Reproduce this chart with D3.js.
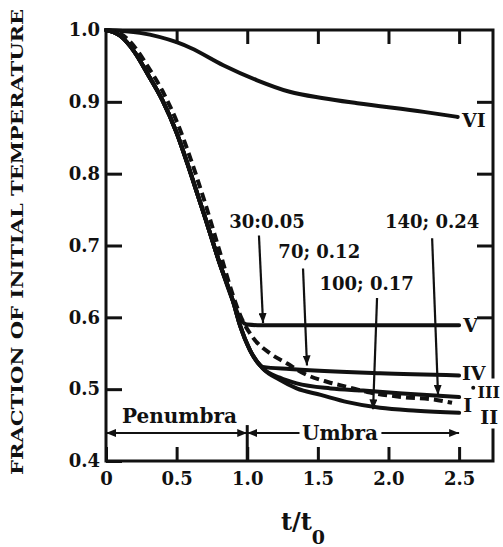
<!DOCTYPE html>
<html><head><meta charset="utf-8">
<script src="https://cdn.jsdelivr.net/npm/d3@7"></script>
<style>
body{margin:0;background:#fff}
text{font-family:"DejaVu Serif",serif;font-weight:bold;fill:#111}
</style>
</head><body>
<svg id="c" width="503" height="547"></svg>
<script>
// ---- data ----
const xTicks = [0, 0.5, 1.0, 1.5, 2.0, 2.5];
const xTickLabels = ["0", "0.5", "1.0", "1.5", "2.0", "2.5"];
const yTicks = [0.4, 0.5, 0.6, 0.7, 0.8, 0.9, 1.0];
const yTickLabels = ["0.4", "0.5", "0.6", "0.7", "0.8", "0.9", "1.0"];

// shared early part of curves I, II, IV, V
const commonT = [0, 0.1, 0.2, 0.3, 0.4, 0.5, 0.6, 0.7, 0.8, 0.9];
const commonV = [1.0, 0.992, 0.97, 0.937, 0.902, 0.857, 0.8, 0.74, 0.678, 0.622];

const tailVT = [0.95, 1.0, 1.1, 1.5, 2.0, 2.5];
const tailVV = [0.598, 0.59, 0.589, 0.589, 0.589, 0.589];
const tailIVT = [0.95, 1.02, 1.11, 1.3, 1.94, 2.5];
const tailIVV = [0.588, 0.554, 0.531, 0.528, 0.522, 0.519];
const tailIT = [0.95, 1.02, 1.11, 1.23, 1.35, 1.59, 1.82, 2.1, 2.5];
const tailIV_ = [0.588, 0.554, 0.529, 0.516, 0.508, 0.501, 0.498, 0.494, 0.489];
const tailIIT = [0.95, 1.02, 1.11, 1.23, 1.35, 1.52, 1.71, 1.94, 2.2, 2.5];
const tailIIV = [0.588, 0.554, 0.529, 0.513, 0.501, 0.492, 0.482, 0.474, 0.470, 0.467];

const curveIIIT = [0, 0.1, 0.2, 0.3, 0.4, 0.5, 0.6, 0.7, 0.8, 0.9, 0.95, 1.04, 1.16, 1.28, 1.42, 1.57, 1.71, 1.85, 2.1, 2.34, 2.45];
const curveIIIV = [1.0, 0.995, 0.977, 0.948, 0.915, 0.873, 0.82, 0.76, 0.695, 0.63, 0.603, 0.572, 0.550, 0.536, 0.520, 0.510, 0.503, 0.496, 0.489, 0.485, 0.481];

const curveVIT = [0, 0.24, 0.5, 0.6, 0.83, 1.07, 1.3, 1.54, 1.78, 2.25, 2.49];
const curveVIV = [1.0, 0.996, 0.983, 0.975, 0.951, 0.93, 0.914, 0.905, 0.898, 0.886, 0.879];

const curveLabels = ["VI", "V", "IV", "III", "I", "II"];
const curveLabelT = [2.52, 2.53, 2.52, 2.63, 2.53, 2.65];
const curveLabelV = [0.875, 0.589, 0.522, 0.496, 0.478, 0.461];

const annoText = ["30:0.05", "70; 0.12", "100; 0.17", "140; 0.24"];
const annoTextT = [1.14, 1.51, 1.845, 2.309];
const annoTextV = [0.724, 0.682, 0.638, 0.724];
const annoFromT = [1.083, 1.395, 1.919, 2.309];
const annoFromV = [0.714, 0.668, 0.627, 0.710];
const annoToT = [1.112, 1.423, 1.891, 2.351];
const annoToV = [0.592, 0.533, 0.472, 0.492];

const regionNames = ["Penumbra", "Umbra"];
const regionStart = [0, 1.0];
const regionEnd = [1.0, 2.5];
const regionArrowV = 0.439;

// ---- layout ----
const W = 503, H = 547;
const m = {left: 106, top: 30, right: 10, bottom: 86};
const iw = W - m.left - m.right, ih = H - m.top - m.bottom;
const svg = d3.select("#c");
const defs = svg.append("defs");
defs.append("marker").attr("id", "ah").attr("viewBox", "0 0 10 8")
  .attr("refX", 10).attr("refY", 4).attr("markerWidth", 10).attr("markerHeight", 8)
  .attr("markerUnits", "userSpaceOnUse").attr("orient", "auto-start-reverse")
  .append("path").attr("d", "M0,0 L10,4 L0,8 Z").attr("fill", "#111");

const g = svg.append("g").attr("transform", `translate(${m.left},${m.top})`);
const x = d3.scaleLinear().domain([0, 2.74]).range([0, iw]);
const y = d3.scaleLinear().domain([0.4, 1.0]).range([ih, 0]);

// axes
const ax = g.append("g").attr("transform", `translate(0,${ih})`)
  .call(d3.axisBottom(x).tickValues(xTicks).tickFormat((d, i) => xTickLabels[i])
    .tickSizeInner(-14).tickSizeOuter(0).tickPadding(11));
const axT = g.append("g")
  .call(d3.axisTop(x).tickValues(xTicks.slice(1)).tickFormat("").tickSizeInner(-14).tickSizeOuter(0));
const ayL = g.append("g")
  .call(d3.axisLeft(y).tickValues(yTicks).tickFormat((d, i) => yTickLabels[i])
    .tickSizeInner(-16).tickSizeOuter(0).tickPadding(6));
const ayR = g.append("g").attr("transform", `translate(${iw},0)`)
  .call(d3.axisRight(y).tickValues([0.6, 0.7, 0.8, 0.9]).tickFormat("").tickSizeInner(-16).tickSizeOuter(0));
[ax, axT, ayL, ayR].forEach(a => {
  a.select(".domain").remove();
  a.selectAll(".tick line").attr("stroke", "#111").attr("stroke-width", 3);
  a.selectAll("text").attr("font-size", 18).attr("fill", "#111")
    .style("font-family", "DejaVu Serif").style("font-weight", "bold");
});

// frame
const frame = g.append("g").attr("stroke", "#111").attr("stroke-width", 3).attr("fill", "none");
frame.append("path").attr("d", `M${iw},${y(0.517)} L${iw},0 L0,0 L0,${ih} L${iw},${ih} L${iw},${y(0.443)}`)
  .attr("stroke-linecap", "square");

// t = 1.0 divider
g.append("line").attr("x1", x(1.0)).attr("x2", x(1.0)).attr("y1", y(0.45)).attr("y2", ih)
  .attr("stroke", "#111").attr("stroke-width", 3);

// curves
const line = d3.line().x(d => x(d[0])).y(d => y(d[1])).curve(d3.curveMonotoneX);
const zip = (t, v) => t.map((d, i) => [d, v[i]]);
const solid = [
  zip(curveVIT, curveVIV),
  zip(commonT.concat(tailVT), commonV.concat(tailVV)),
  zip(commonT.concat(tailIVT), commonV.concat(tailIVV)),
  zip(commonT.concat(tailIT), commonV.concat(tailIV_)),
  zip(commonT.concat(tailIIT), commonV.concat(tailIIV))
];
g.selectAll(".sc").data(solid).enter().append("path")
  .attr("d", line).attr("fill", "none").attr("stroke", "#111").attr("stroke-width", 4)
  .attr("stroke-linecap", "round");
g.append("path").datum(zip(curveIIIT, curveIIIV)).attr("d", line)
  .attr("fill", "none").attr("stroke", "#111").attr("stroke-width", 4)
  .attr("stroke-dasharray", "9,5");

// curve labels
g.selectAll(".cl").data(curveLabels).enter().append("text")
  .attr("x", (d, i) => x(curveLabelT[i])).attr("y", (d, i) => y(curveLabelV[i]))
  .attr("dy", "0.36em").attr("font-size", (d) => d === "III" ? 16 : 19).text(d => d);
g.append("circle").attr("cx", x(2.6)).attr("cy", y(0.502)).attr("r", 2).attr("fill", "#111");

// annotations
g.selectAll(".at").data(annoText).enter().append("text")
  .attr("x", (d, i) => x(annoTextT[i])).attr("y", (d, i) => y(annoTextV[i]))
  .attr("text-anchor", "middle").attr("font-size", 18).text(d => d);
g.selectAll(".al").data(annoText).enter().append("line")
  .attr("x1", (d, i) => x(annoFromT[i])).attr("y1", (d, i) => y(annoFromV[i]))
  .attr("x2", (d, i) => x(annoToT[i])).attr("y2", (d, i) => y(annoToV[i]))
  .attr("stroke", "#111").attr("stroke-width", 2.2).attr("marker-end", "url(#ah)");

// Penumbra / Umbra
g.append("line").attr("x1", x(regionStart[0])).attr("x2", x(regionEnd[0]))
  .attr("y1", y(regionArrowV)).attr("y2", y(regionArrowV))
  .attr("stroke", "#111").attr("stroke-width", 2.2)
  .attr("marker-start", "url(#ah)").attr("marker-end", "url(#ah)");
g.append("text").attr("x", x(0.113)).attr("y", y(0.453)).attr("font-size", 20).text(regionNames[0]);
const umbraMid = 1.657;
g.append("line").attr("x1", x(regionStart[1])).attr("x2", x(1.37))
  .attr("y1", y(regionArrowV)).attr("y2", y(regionArrowV))
  .attr("stroke", "#111").attr("stroke-width", 2.2).attr("marker-start", "url(#ah)");
g.append("line").attr("x1", x(1.95)).attr("x2", x(regionEnd[1]))
  .attr("y1", y(regionArrowV)).attr("y2", y(regionArrowV))
  .attr("stroke", "#111").attr("stroke-width", 2.2).attr("marker-end", "url(#ah)");
g.append("text").attr("x", x(umbraMid)).attr("y", y(regionArrowV)).attr("dy", "0.36em")
  .attr("text-anchor", "middle").attr("font-size", 20).text(regionNames[1]);

// axis titles
const xt = svg.append("text").attr("x", 303).attr("y", 530).attr("text-anchor", "middle").attr("font-size", 24);
xt.append("tspan").text("t/t");
xt.append("tspan").attr("font-size", 19).attr("dy", 14).text("0");
svg.append("text").attr("transform", "translate(23,242) rotate(-90)")
  .attr("text-anchor", "middle").attr("font-size", 17)
  .attr("textLength", 466).attr("lengthAdjust", "spacingAndGlyphs")
  .text("FRACTION OF INITIAL TEMPERATURE");
</script>
</body></html>
